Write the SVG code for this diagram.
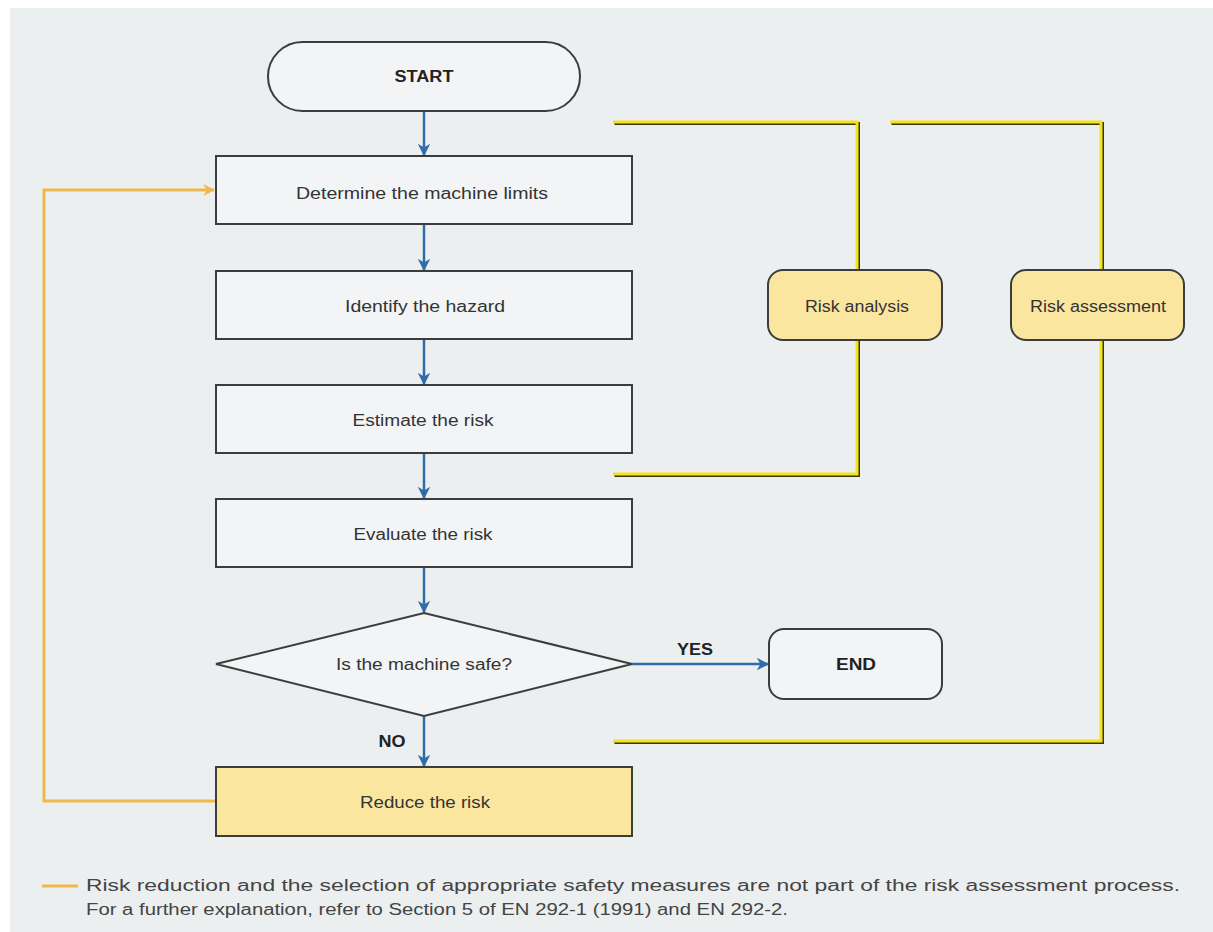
<svg xmlns="http://www.w3.org/2000/svg" width="1213" height="932" viewBox="0 0 1213 932">
<defs>
<marker id="blue" viewBox="0 0 10 10" refX="9" refY="5" markerWidth="5" markerHeight="5" orient="auto" markerUnits="strokeWidth"><path d="M0,0 L10,5 L0,10 L3,5 z" fill="#2f6ca8"/></marker>
<marker id="orange" viewBox="0 0 10 10" refX="9" refY="5" markerWidth="4" markerHeight="4" orient="auto" markerUnits="strokeWidth"><path d="M0,0 L10,5 L0,10 L3,5 z" fill="#efb94a"/></marker>
</defs>
<style>
.box{fill:#f2f4f6;stroke:#3c3c3c;stroke-width:2}
.hl{fill:#fbe6a0;stroke:#3c3c3c;stroke-width:2}
.t{font-family:"Liberation Sans",Arial,sans-serif;font-size:16px;fill:#333;text-anchor:middle;dominant-baseline:central}
.b{font-weight:bold;fill:#222}
.flow{fill:none;stroke:#2f6ca8;stroke-width:2.5;marker-end:url(#blue)}
.fb{fill:none;stroke:#efb94a;stroke-width:3}
.ysh{fill:none;stroke:#3a3800;stroke-width:3}
.y{fill:none;stroke:#f3e21c;stroke-width:3}
.foot{font-family:"Liberation Sans",Arial,sans-serif;font-size:16px;fill:#444}
</style>
<rect x="0" y="0" width="1213" height="932" fill="#ffffff"/>
<rect x="10" y="8" width="1203" height="924" fill="#eceff0"/>

<g id="connectors">
<path class="flow" d="M424,111 V155"/>
<path class="flow" d="M424,224 V270"/>
<path class="flow" d="M424,339 V384"/>
<path class="flow" d="M424,453 V498"/>
<path class="flow" d="M424,567 V612"/>
<path class="flow" d="M424,716 V766"/>
<path class="flow" d="M632,664 H768"/>
<path class="fb" d="M216,801 H44 V190 H214" marker-end="url(#orange)"/>
<g id="bracket-analysis">
<path class="ysh" transform="translate(1.5,1.5)" d="M613,122 H857 V474 H613"/>
<path class="y" d="M613,122 H857 V474 H613"/>
</g>
<g id="bracket-assessment">
<path class="ysh" transform="translate(1.5,1.5)" d="M890,122 H1101 V741 H613"/>
<path class="y" d="M890,122 H1101 V741 H613"/>
</g>
<text class="t b" x="695" y="649" textLength="36" lengthAdjust="spacingAndGlyphs">YES</text>
<text class="t b" x="392" y="741" textLength="27" lengthAdjust="spacingAndGlyphs">NO</text>
</g>

<g id="start">
<rect class="box" x="268" y="42" width="312" height="69" rx="34.5"/>
<text class="t b" x="424" y="76" textLength="59" lengthAdjust="spacingAndGlyphs">START</text>
</g>
<g id="limits">
<rect class="box" x="216" y="156" width="416" height="68"/>
<text class="t" x="422" y="193" textLength="252" lengthAdjust="spacingAndGlyphs">Determine the machine limits</text>
</g>
<g id="hazard">
<rect class="box" x="216" y="271" width="416" height="68"/>
<text class="t" x="425" y="306" textLength="160" lengthAdjust="spacingAndGlyphs">Identify the hazard</text>
</g>
<g id="estimate">
<rect class="box" x="216" y="385" width="416" height="68"/>
<text class="t" x="423" y="420" textLength="141" lengthAdjust="spacingAndGlyphs">Estimate the risk</text>
</g>
<g id="evaluate">
<rect class="box" x="216" y="499" width="416" height="68"/>
<text class="t" x="423" y="534" textLength="139" lengthAdjust="spacingAndGlyphs">Evaluate the risk</text>
</g>
<g id="safe">
<polygon class="box" points="424,613 632,664 424,716 216,664"/>
<text class="t" x="424" y="664" textLength="176" lengthAdjust="spacingAndGlyphs">Is the machine safe?</text>
</g>
<g id="end">
<rect class="box" x="769" y="629" width="173" height="70" rx="15"/>
<text class="t b" x="856" y="664" textLength="40" lengthAdjust="spacingAndGlyphs">END</text>
</g>
<g id="reduce">
<rect class="hl" x="216" y="767" width="416" height="69"/>
<text class="t" x="425" y="802" textLength="130" lengthAdjust="spacingAndGlyphs">Reduce the risk</text>
</g>
<g id="risk-analysis">
<rect class="hl" x="768" y="270" width="174" height="70" rx="15"/>
<text class="t" x="857" y="306" textLength="104" lengthAdjust="spacingAndGlyphs">Risk analysis</text>
</g>
<g id="risk-assessment">
<rect class="hl" x="1011" y="270" width="173" height="70" rx="15"/>
<text class="t" x="1098" y="306" textLength="136" lengthAdjust="spacingAndGlyphs">Risk assessment</text>
</g>

<g id="footnote">
<path d="M42,886 H78" stroke="#efb94a" stroke-width="3"/>
<text class="foot" x="86" y="891" textLength="1094" lengthAdjust="spacingAndGlyphs">Risk reduction and the selection of appropriate safety measures are not part of the risk assessment process.</text>
<text class="foot" x="86" y="915" textLength="702" lengthAdjust="spacingAndGlyphs">For a further explanation, refer to Section 5 of EN 292-1 (1991) and EN 292-2.</text>
</g>
</svg>
